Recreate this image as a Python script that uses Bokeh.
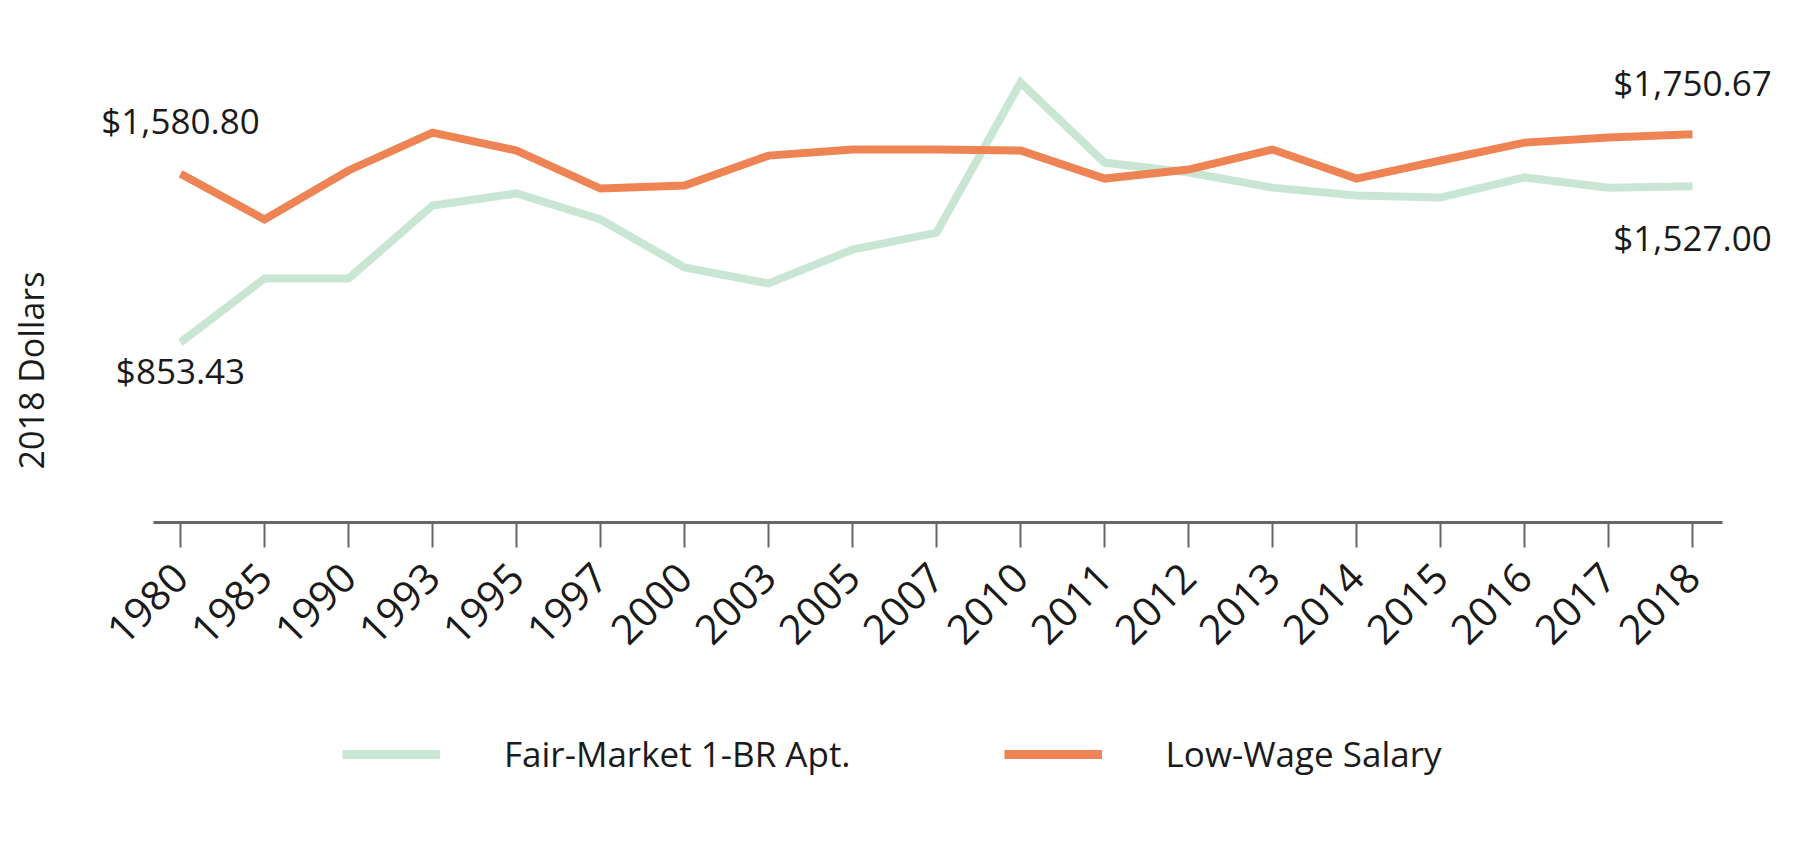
import math
from bokeh.plotting import figure
from bokeh.layouts import column
from bokeh.models import Range1d, FixedTicker, Label, Legend, LegendItem
from bokeh.embed import file_html
from bokeh.resources import INLINE

# ---- data ----
years = ["1980", "1985", "1990", "1993", "1995", "1997", "2000", "2003", "2005", "2007",
         "2010", "2011", "2012", "2013", "2014", "2015", "2016", "2017", "2018"]
fair_market_1br = [853.43, 1129, 1129, 1444, 1496, 1384, 1177, 1108, 1254, 1327,
                   1974, 1629, 1586, 1521, 1487, 1478, 1565, 1521, 1527.00]
low_wage_salary = [1580.80, 1384, 1595, 1758, 1681, 1517, 1530, 1659, 1685, 1685,
                   1681, 1560, 1599, 1685, 1560, 1638, 1715, 1737, 1750.67]
series_names = ["Fair-Market 1-BR Apt.", "Low-Wage Salary"]
y_axis_title = "2018 Dollars"

GREEN = "#C9E6D5"
ORANGE = "#EE8454"
TEXT = "#1a1a1a"
AXIS = "#666666"
FONT = "Open Sans"

W = 1790
H1 = 660
H2 = 200
STEP = 84.0      # px per category
X0 = 180.0       # px of first category

x = list(range(len(years)))

p = figure(width=W, height=H1, output_backend="svg", toolbar_location=None,
           x_range=Range1d(-X0 / STEP, (W - X0) / STEP),
           y_range=Range1d(77.6, 2241.4),
           y_axis_location=None,
           min_border_left=0, min_border_right=0, min_border_top=20,
           min_border_bottom=H1 - 522)
p.outline_line_color = None
p.grid.visible = False
p.background_fill_color = "white"
p.border_fill_color = "white"

p.line(x, fair_market_1br, line_color=GREEN, line_width=8, line_join="miter")
p.line(x, low_wage_salary, line_color=ORANGE, line_width=8, line_join="miter")

ax = p.xaxis[0]
ax.bounds = (-27 / STEP, len(x) - 1 + 30 / STEP)
ax.ticker = FixedTicker(ticks=x)
ax.major_label_overrides = {i: y for i, y in zip(x, years)}
ax.axis_line_color = AXIS
ax.axis_line_width = 3
ax.major_tick_line_color = AXIS
ax.major_tick_line_width = 2
ax.major_tick_out = 25
ax.major_tick_in = 0
ax.minor_tick_line_color = None
ax.major_label_text_font = FONT
ax.major_label_text_font_size = "41px"
ax.major_label_text_color = TEXT
ax.major_label_orientation = math.pi / 4
ax.major_label_standoff = 23

# endpoint value labels
def money(v):
    return "${:,.2f}".format(v)

label_specs = [
    (0, low_wage_salary[0], 53),
    (0, fair_market_1br[0], -28),
    (len(x) - 1, low_wage_salary[-1], 52),
    (len(x) - 1, fair_market_1br[-1], -51),
]
for xi, v, off in label_specs:
    p.add_layout(Label(x=xi, y=v, text=money(v), y_offset=off,
                       text_align="center", text_baseline="alphabetic",
                       text_font=FONT, text_font_size="35px", text_color=TEXT))

# y axis title
p.add_layout(Label(x=30, y=152, x_units="screen", y_units="screen", text=y_axis_title,
                   angle=math.pi / 2, text_align="center", text_baseline="middle",
                   text_font=FONT, text_font_size="34px", text_color=TEXT))

# legend figure: series drawn again far outside its visible range, only to feed the legend swatches
p2 = figure(width=W, height=H2, output_backend="svg", toolbar_location=None,
            x_range=Range1d(0, 1), y_range=Range1d(0, 1),
            x_axis_location=None, y_axis_location=None,
            min_border_left=0, min_border_right=0, min_border_top=0, min_border_bottom=0)
p2.outline_line_color = None
p2.grid.visible = False
g_leg = p2.line(x, fair_market_1br, line_color=GREEN, line_width=9)
o_leg = p2.line(x, low_wage_salary, line_color=ORANGE, line_width=9)

legend = Legend(items=[LegendItem(label=series_names[0], renderers=[g_leg]),
                       LegendItem(label=series_names[1], renderers=[o_leg])],
                orientation="horizontal", location=(342, 83),
                glyph_width=98, glyph_height=40, label_height=40,
                label_standoff=64, spacing=153, padding=0, margin=0,
                border_line_alpha=0, background_fill_alpha=0,
                label_text_font=FONT, label_text_font_size="35px", label_text_color=TEXT)
p2.add_layout(legend, "center")

layout = column(p, p2)
open("out.html", "w").write(file_html(layout, INLINE))
